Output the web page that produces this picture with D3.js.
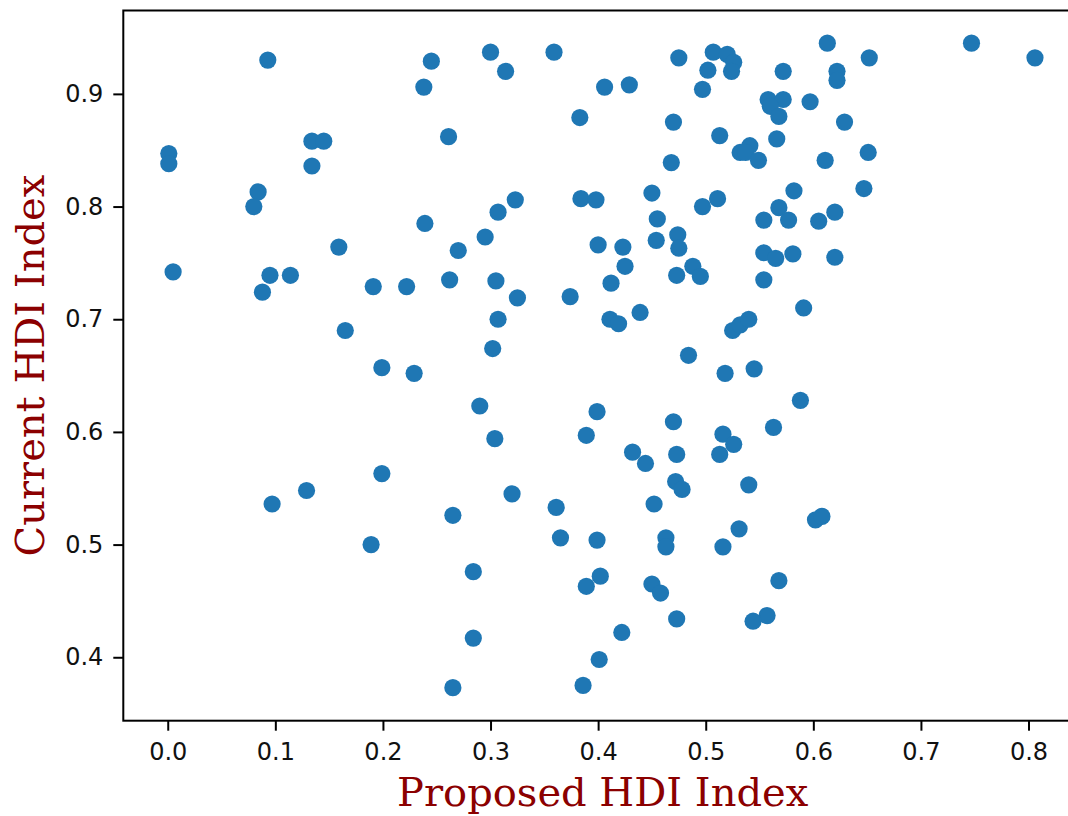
<!DOCTYPE html>
<html>
<head>
<meta charset="utf-8">
<script src="https://cdn.jsdelivr.net/npm/d3@7"></script>
<style>
  body { margin: 0; background: #fff; }
  svg { display: block; }
</style>
</head>
<body>
<svg id="chart" width="1068" height="816"></svg>
<script>
// values, one entry per country
var proposedHDI = [
  0.093, 0.245, 0.238, 0.261, 0.001, 0.001, 0.134, 0.145, 0.134, 0.084,
  0.080, 0.239, 0.159, 0.005, 0.095, 0.114, 0.088, 0.191, 0.222, 0.165,
  0.199, 0.229, 0.199, 0.129, 0.097, 0.189, 0.300, 0.314, 0.359, 0.406,
  0.429, 0.383, 0.475, 0.507, 0.520, 0.526, 0.524, 0.502, 0.497, 0.470,
  0.513, 0.532, 0.468, 0.450, 0.511, 0.497, 0.384, 0.398, 0.323, 0.307,
  0.295, 0.270, 0.455, 0.454, 0.474, 0.475, 0.400, 0.423, 0.425, 0.412,
  0.488, 0.495, 0.473, 0.262, 0.305, 0.325, 0.374, 0.307, 0.302, 0.411,
  0.419, 0.439, 0.525, 0.532, 0.540, 0.484, 0.613, 0.747, 0.806, 0.652,
  0.572, 0.622, 0.622, 0.558, 0.572, 0.560, 0.568, 0.597, 0.629, 0.566,
  0.541, 0.537, 0.549, 0.611, 0.651, 0.582, 0.647, 0.568, 0.577, 0.554,
  0.605, 0.620, 0.554, 0.565, 0.581, 0.620, 0.554, 0.591, 0.545, 0.518,
  0.588, 0.563, 0.290, 0.304, 0.399, 0.389, 0.470, 0.432, 0.444, 0.473,
  0.516, 0.526, 0.513, 0.540, 0.472, 0.478, 0.320, 0.265, 0.361, 0.452,
  0.602, 0.608, 0.531, 0.516, 0.365, 0.399, 0.463, 0.463, 0.284, 0.402,
  0.389, 0.450, 0.458, 0.568, 0.473, 0.557, 0.544, 0.284, 0.422, 0.401,
  0.265, 0.386
];
var currentHDI = [
  0.930, 0.929, 0.906, 0.862, 0.847, 0.838, 0.858, 0.858, 0.836, 0.813,
  0.800, 0.785, 0.764, 0.742, 0.739, 0.739, 0.724, 0.729, 0.729, 0.690,
  0.657, 0.652, 0.563, 0.548, 0.536, 0.500, 0.937, 0.920, 0.937, 0.906,
  0.908, 0.879, 0.932, 0.937, 0.935, 0.928, 0.920, 0.921, 0.904, 0.875,
  0.863, 0.848, 0.839, 0.812, 0.807, 0.800, 0.807, 0.806, 0.806, 0.795,
  0.773, 0.761, 0.789, 0.770, 0.775, 0.763, 0.766, 0.764, 0.747, 0.732,
  0.747, 0.738, 0.739, 0.735, 0.734, 0.719, 0.720, 0.700, 0.674, 0.700,
  0.696, 0.706, 0.690, 0.695, 0.700, 0.668, 0.945, 0.945, 0.932, 0.932,
  0.920, 0.920, 0.912, 0.895, 0.895, 0.889, 0.880, 0.893, 0.875, 0.860,
  0.854, 0.848, 0.841, 0.841, 0.848, 0.814, 0.816, 0.799, 0.788, 0.788,
  0.787, 0.795, 0.759, 0.754, 0.758, 0.755, 0.735, 0.710, 0.656, 0.652,
  0.628, 0.604, 0.623, 0.594, 0.618, 0.597, 0.609, 0.582, 0.572, 0.580,
  0.598, 0.589, 0.580, 0.553, 0.556, 0.549, 0.545, 0.526, 0.533, 0.536,
  0.522, 0.525, 0.514, 0.498, 0.506, 0.504, 0.506, 0.498, 0.476, 0.472,
  0.463, 0.465, 0.457, 0.468, 0.434, 0.437, 0.432, 0.417, 0.422, 0.398,
  0.373, 0.375
];
var xTicks = [0.0, 0.1, 0.2, 0.3, 0.4, 0.5, 0.6, 0.7, 0.8];
var yTicks = [0.4, 0.5, 0.6, 0.7, 0.8, 0.9];
var xLabel = "Proposed HDI Index";
var yLabel = "Current HDI Index";

(function() {
    var svg = d3.select("#chart");

    // plot box (the right edge runs past the picture, as in the original)
    var box = { left: 123.3, top: 10.5, bottom: 720.7, right: 1082 };

    var x = d3.scaleLinear().domain([-0.0413, 0.8497]).range([box.left, box.right]);
    var y = d3.scaleLinear().domain([0.3437, 0.974]).range([box.bottom, box.top]);

    var points = d3.zip(proposedHDI, currentHDI);

    svg.append("g")
        .attr("class", "points")
        .selectAll("circle")
        .data(points)
        .enter()
        .append("circle")
        .attr("cx", function(d) { return x(d[0]); })
        .attr("cy", function(d) { return y(d[1]); })
        .attr("r", 8.6)
        .style("fill", "#1f77b4");

    // frame
    svg.append("rect")
        .attr("x", box.left)
        .attr("y", box.top)
        .attr("width", box.right - box.left)
        .attr("height", box.bottom - box.top)
        .style("fill", "none")
        .style("stroke", "#000")
        .style("stroke-width", 2);

    var xAxis = d3.axisBottom(x)
        .tickValues(xTicks)
        .tickFormat(d3.format(".1f"))
        .tickSize(10)
        .tickPadding(12)
        .tickSizeOuter(0);
    var yAxis = d3.axisLeft(y)
        .tickValues(yTicks)
        .tickFormat(d3.format(".1f"))
        .tickSize(10)
        .tickPadding(10)
        .tickSizeOuter(0);

    var gx = svg.append("g")
        .attr("transform", "translate(0," + box.bottom + ")")
        .call(xAxis);
    var gy = svg.append("g")
        .attr("transform", "translate(" + box.left + ",0)")
        .call(yAxis);

    [gx, gy].forEach(function(g) {
        g.select(".domain").remove();
        g.selectAll(".tick line").style("stroke", "#000").style("stroke-width", 2);
        g.selectAll(".tick text")
            .style("font-family", "'DejaVu Sans', sans-serif")
            .style("font-size", "24px")
            .style("fill", "#111");
    });

    svg.append("text")
        .attr("x", (box.left + box.right) / 2)
        .attr("y", 806)
        .attr("text-anchor", "middle")
        .style("font-family", "'DejaVu Serif', serif")
        .style("font-size", "40px")
        .style("fill", "#8b0000")
        .text(xLabel);

    svg.append("text")
        .attr("transform", "translate(43.5," + ((box.top + box.bottom) / 2) + ") rotate(-90)")
        .attr("text-anchor", "middle")
        .style("font-family", "'DejaVu Serif', serif")
        .style("font-size", "40px")
        .style("fill", "#8b0000")
        .text(yLabel);
})();
</script>
